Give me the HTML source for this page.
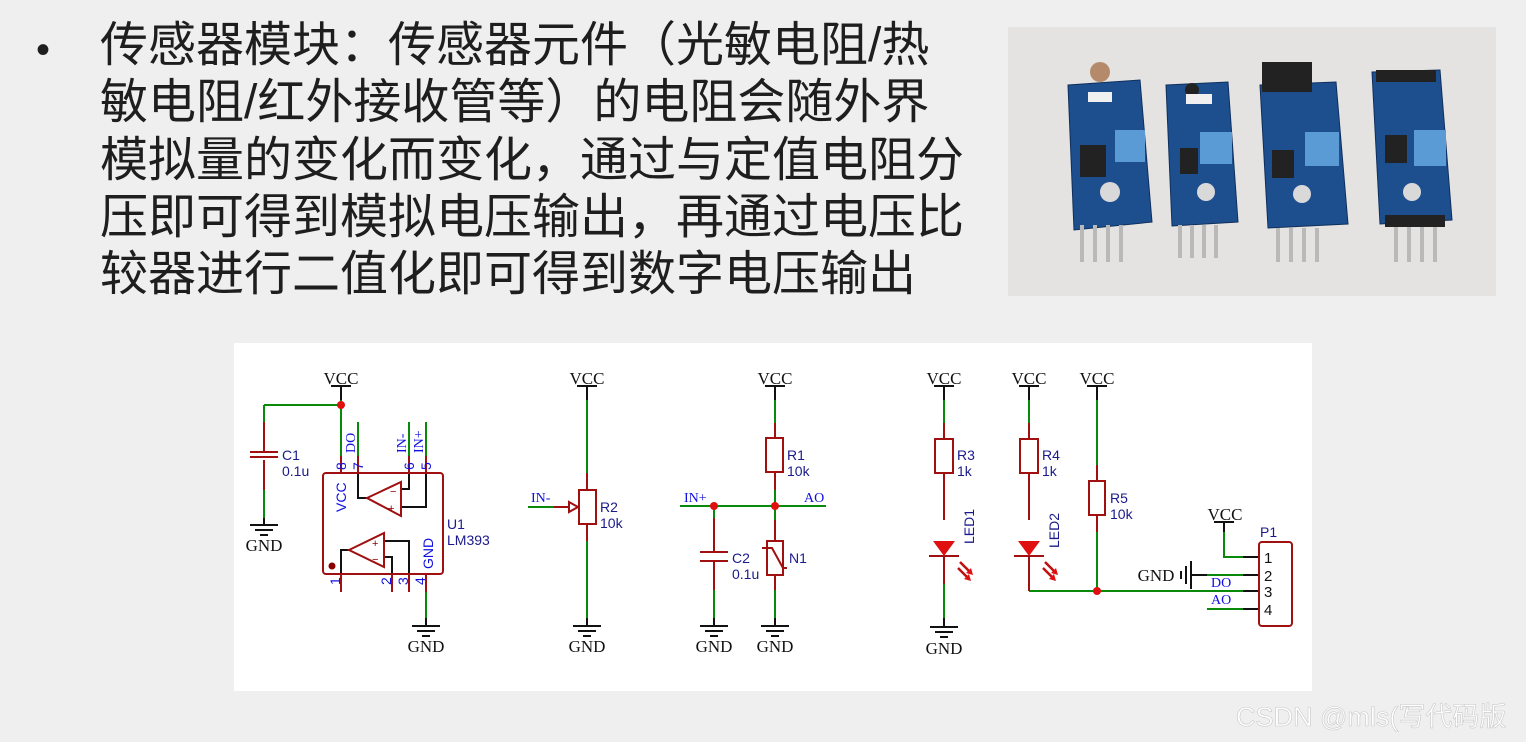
<!DOCTYPE html>
<html><head><meta charset="utf-8"><style>
html,body{margin:0;padding:0;background:#efefef;width:1526px;height:742px;overflow:hidden;position:relative;font-family:"Liberation Sans","Noto Sans CJK SC",sans-serif}
.l{position:absolute;left:100px;font-size:48px;color:#1e1e1e;white-space:nowrap;line-height:1;font-family:"Liberation Sans","Noto Sans CJK SC",sans-serif}
.b{position:absolute;left:36px;top:28px;font-size:40px;color:#1e1e1e}
svg{position:absolute;left:0;top:0}
</style></head><body>
<div class="b">•</div>
<div class="l" style="top:22px">传感器模块：传感器元件（光敏电阻/热</div>
<div class="l" style="top:79px">敏电阻/红外接收管等）的电阻会随外界</div>
<div class="l" style="top:137px">模拟量的变化而变化，通过与定值电阻分</div>
<div class="l" style="top:194px">压即可得到模拟电压输出，再通过电压比</div>
<div class="l" style="top:251px">较器进行二值化即可得到数字电压输出</div>

<svg width="1526" height="742" viewBox="0 0 1526 742">
<!-- photo -->
<rect x="1008" y="27" width="488" height="269" fill="#e4e3e1"/>
<g fill="#1d4f8f" stroke="#0f2f5c" stroke-width="1">
<polygon points="1068,85 1140,80 1152,222 1074,230"/>
<polygon points="1166,85 1228,82 1238,222 1172,226"/>
<polygon points="1260,85 1336,82 1348,224 1268,228"/>
<polygon points="1372,72 1440,70 1452,220 1380,224"/>
</g>
<g fill="#5a9bd6"><rect x="1115" y="130" width="30" height="32"/><rect x="1200" y="132" width="32" height="32"/><rect x="1305" y="132" width="34" height="34"/><rect x="1414" y="130" width="32" height="36"/></g>
<g fill="#222"><rect x="1080" y="145" width="26" height="32"/><rect x="1180" y="148" width="18" height="26"/><rect x="1272" y="150" width="22" height="28"/><rect x="1385" y="135" width="22" height="28"/>
<rect x="1262" y="62" width="50" height="30"/><rect x="1376" y="70" width="60" height="12"/></g>
<circle cx="1100" cy="72" r="10" fill="#b48a6a"/><rect x="1088" y="92" width="24" height="10" fill="#f0f0f0"/>
<circle cx="1192" cy="90" r="7" fill="#222"/><rect x="1186" y="94" width="26" height="10" fill="#f0f0f0"/>
<g fill="#d9d9d9"><circle cx="1110" cy="192" r="10"/><circle cx="1206" cy="192" r="9"/><circle cx="1302" cy="194" r="9"/><circle cx="1412" cy="192" r="9"/></g>
<g stroke="#b9b9b9" stroke-width="4">
<path d="M1082 225V262M1095 225V262M1108 225V262M1121 225V262"/>
<path d="M1180 225V258M1192 225V258M1204 225V258M1216 225V258"/>
<path d="M1278 228V262M1291 228V262M1304 228V262M1317 228V262"/>
<path d="M1396 222V262M1409 222V262M1422 222V262M1435 222V262"/>
</g>
<rect x="1385" y="215" width="60" height="12" fill="#222"/>

<!-- schematic -->
<rect x="234" y="343" width="1078" height="348" fill="#fff"/>
<g font-family="Liberation Serif,serif" font-size="17" fill="#111" text-anchor="middle">
<text x="341" y="384">VCC</text><text x="587" y="384">VCC</text><text x="775" y="384">VCC</text>
<text x="944" y="384">VCC</text><text x="1029" y="384">VCC</text><text x="1097" y="384">VCC</text><text x="1225" y="520">VCC</text>
<text x="264" y="551">GND</text><text x="426" y="652">GND</text><text x="587" y="652">GND</text><text x="714" y="652">GND</text><text x="775" y="652">GND</text><text x="944" y="654">GND</text>
<text x="1156" y="581">GND</text>
</g>
<g stroke="#111" stroke-width="2" fill="none">
<path d="M331 386H351M341 386V400M577 386H597M587 386V400M765 386H785M775 386V400M934 386H954M944 386V400M1019 386H1039M1029 386V400M1087 386H1107M1097 386V400M1214 522H1234M1224 522V532"/>
<path d="M250 525H278M255 530H273M260 535H268"/>
<path d="M412 626H440M417 631H435M422 636H430"/>
<path d="M573 626H601M578 631H596M583 636H591"/>
<path d="M700 626H728M705 631H723M710 636H718"/>
<path d="M761 626H789M766 631H784M771 636H779"/>
<path d="M930 627H958M935 632H953M940 637H948"/>
<path d="M1191 561V589M1186 566V584M1181 571V579"/>
<path d="M264 518V525M426 618V626M587 618V626M714 618V626M775 618V626M944 618V627"/>
<path d="M358 473V498H367M409 473V489H401M426 473V507H401M349 550H341V591M384 557H392V591M384 541H409V591"/>
<path d="M1191 575H1207M1243 557H1259M1243 575H1259M1243 591H1259M1243 609H1259"/>
</g>
<g stroke="#0a8a0a" stroke-width="2" fill="none">
<path d="M341 400V456M264 405H341M264 405V422M264 490V518M358 422V456M409 422V456M426 422V456M426 592V618"/>
<path d="M587 400V473M587 541V618M528 507H554"/>
<path d="M775 400V423M775 490V520M775 590V618M680 506H826M714 506V518M714 590V618"/>
<path d="M944 400V423M944 490V520M944 584V618M1029 400V423M1029 490V520M1097 400V465M1097 532V591M1029 591H1243"/>
<path d="M1224 532V557H1243M1207 575H1243M1207 609H1243"/>
</g>
<g stroke="#a01010" stroke-width="2" fill="none">
<path d="M264 422V452M264 460V490M250 452H278M250 457H278"/>
<path d="M341 456V473M358 456V473M409 456V473M426 456V473M341 574V592M392 574V592M409 574V592M426 574V592"/>
<rect x="323" y="473" width="120" height="101" rx="3"/>
<path d="M367 498L401 482V516Z"/>
<path d="M349 550L384 533V567Z"/>
<path d="M587 473V490M587 524V541M554 507H570"/>
<rect x="579" y="490" width="17" height="34"/>
<path d="M569 502L578 507L569 512Z"/>
<path d="M775 423V438M775 472V490M775 520V541M775 575V590"/>
<rect x="766" y="438" width="17" height="34"/>
<rect x="767" y="541" width="16" height="34"/>
<path d="M762 548L772 548L783 568L787 568"/>
<path d="M714 518V552M714 561V590M700 552H728M700 561H728"/>
<path d="M944 423V439M944 473V520M944 556V584M1029 423V439M1029 473V520M1029 556V591M1097 465V481M1097 515V532"/>
<rect x="935" y="439" width="18" height="34"/><rect x="1020" y="439" width="18" height="34"/><rect x="1089" y="481" width="16" height="34"/>
<path d="M929 556H959M1014 556H1044"/>
<path d="M960 562L969 571M958 568L967 577M1045 562L1054 571M1043 568L1052 577" stroke="#c01010" stroke-width="2.5"/>
<rect x="1259" y="542" width="33" height="84" rx="3"/>
</g>
<g fill="#e01010"><path d="M933 541H955L944 556Z"/><path d="M1018 541H1040L1029 556Z"/>
<path d="M973 575l-7-2 5-5zM971 581l-7-2 5-5zM1058 575l-7-2 5-5zM1056 581l-7-2 5-5z"/>
<circle cx="341" cy="405" r="4"/><circle cx="714" cy="506" r="4"/><circle cx="775" cy="506" r="4"/><circle cx="1097" cy="591" r="4"/></g>
<circle cx="332" cy="566" r="3.5" fill="#8a0000"/>
<g fill="#8a0000" font-size="11" font-family="Liberation Sans,sans-serif">
<text x="390" y="495">−</text><text x="388" y="512">+</text><text x="372" y="547">+</text><text x="372" y="563">−</text></g>
<g font-family="Liberation Sans,sans-serif" font-size="14" fill="#1a1a8c">
<text x="282" y="460">C1</text><text x="282" y="476">0.1u</text>
<text x="447" y="529">U1</text><text x="447" y="545">LM393</text>
<text x="600" y="512">R2</text><text x="600" y="528">10k</text>
<text x="787" y="460">R1</text><text x="787" y="476">10k</text>
<text x="732" y="563">C2</text><text x="732" y="579">0.1u</text>
<text x="789" y="563">N1</text>
<text x="957" y="460">R3</text><text x="957" y="476">1k</text>
<text x="1042" y="460">R4</text><text x="1042" y="476">1k</text>
<text x="1110" y="503">R5</text><text x="1110" y="519">10k</text>
<text x="1260" y="537">P1</text>
<text transform="translate(974,544) rotate(-90)">LED1</text>
<text transform="translate(1059,548) rotate(-90)">LED2</text>
</g>
<g font-family="Liberation Sans,sans-serif" font-size="15" fill="#111">
<text x="1264" y="563">1</text><text x="1264" y="581">2</text><text x="1264" y="597">3</text><text x="1264" y="615">4</text></g>
<g font-family="Liberation Sans,sans-serif" font-size="14" fill="#1010e0">
<text transform="translate(346,512) rotate(-90)">VCC</text>
<text transform="translate(433,569) rotate(-90)">GND</text>
<text transform="translate(346,470) rotate(-90)">8</text><text transform="translate(363,470) rotate(-90)">7</text>
<text transform="translate(414,470) rotate(-90)">6</text><text transform="translate(431,470) rotate(-90)">5</text>
<text transform="translate(340,585) rotate(-90)">1</text><text transform="translate(391,585) rotate(-90)">2</text>
<text transform="translate(408,585) rotate(-90)">3</text><text transform="translate(425,585) rotate(-90)">4</text>
</g>
<g font-family="Liberation Serif,serif" font-size="14" fill="#1010e0">
<text transform="translate(355,453) rotate(-90)">DO</text>
<text transform="translate(406,453) rotate(-90)">IN-</text>
<text transform="translate(423,453) rotate(-90)">IN+</text>
<text x="531" y="502">IN-</text><text x="684" y="502">IN+</text><text x="804" y="502">AO</text>
<text x="1211" y="587">DO</text><text x="1211" y="604">AO</text>
</g>
<text x="1236" y="726" font-family="Liberation Sans,Noto Sans CJK SC,sans-serif" font-size="27" fill="#fff" stroke="#c8c8c8" stroke-width="0.6">CSDN @mls(写代码版</text>
</svg>
</body></html>
